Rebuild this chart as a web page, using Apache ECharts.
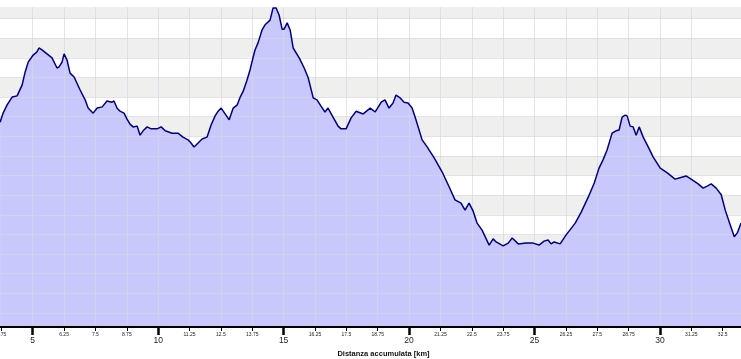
<!DOCTYPE html>
<html>
<head>
<meta charset="utf-8">
<script src="https://cdn.jsdelivr.net/npm/echarts@6/dist/echarts.min.js"></script>
<style>html,body{margin:0;padding:0;background:#fff;}#c{width:741px;height:359px;}</style>
</head>
<body>
<div id="c"></div>
<script>
const distanceKm = [3.70,3.82,3.98,4.18,4.38,4.58,4.70,4.82,5.02,5.17,5.25,5.37,5.57,5.77,5.97,6.05,6.17,6.25,6.37,6.49,
  6.65,6.89,7.09,7.21,7.41,7.57,7.77,7.96,8.16,8.24,8.36,8.48,8.64,8.76,8.88,9.00,9.16,9.28,9.40,9.56,
  9.72,9.96,10.12,10.28,10.56,10.79,10.99,11.19,11.31,11.43,11.59,11.75,11.95,12.11,12.27,12.39,12.51,12.67,12.83,12.99,
  13.15,13.27,13.39,13.54,13.66,13.78,13.86,13.98,14.14,14.26,14.46,14.58,14.70,14.82,14.94,15.02,15.14,15.26,15.38,15.62,
  15.82,15.98,16.18,16.33,16.49,16.65,16.77,16.97,17.17,17.29,17.49,17.69,17.89,18.17,18.45,18.65,18.89,19.04,19.20,19.36,
  19.48,19.64,19.80,19.96,20.12,20.24,20.52,20.72,21.00,21.32,21.60,21.83,22.07,22.23,22.39,22.55,22.71,22.91,23.19,23.35,
  23.47,23.75,23.95,24.11,24.35,24.66,24.94,25.18,25.38,25.54,25.66,25.78,26.02,26.26,26.62,26.86,27.14,27.38,27.57,27.73,
  27.89,28.01,28.09,28.25,28.37,28.49,28.61,28.69,28.81,28.93,29.05,29.17,29.33,29.53,29.73,30.01,30.29,30.60,30.76,31.04,
  31.24,31.52,31.72,31.88,32.04,32.24,32.44,32.60,32.80,32.96,33.08,33.23];
const elevationM = [586,609,630,650,653,681,714,739,757,765,775,770,760,750,724,727,739,760,744,711,
  701,668,643,622,609,622,625,640,637,640,622,614,609,594,581,574,576,553,564,574,
  569,569,574,564,558,558,548,541,533,523,533,543,548,579,602,614,622,607,592,622,
  630,650,665,693,719,750,770,788,821,834,846,877,877,859,823,823,839,821,775,750,
  724,699,648,643,627,612,622,599,576,569,569,597,614,607,622,612,637,643,622,635,
  655,648,637,635,622,599,541,523,495,459,421,388,380,362,380,360,329,311,273,289,
  281,271,278,291,276,278,278,273,283,286,276,281,276,299,329,357,395,431,469,490,
  515,541,558,564,566,599,604,602,576,574,553,574,548,523,497,469,457,441,444,449,
  441,429,418,423,429,418,401,362,324,294,304,329];

const minorTickLabels = [3.75,6.25,7.5,8.75,11.25,12.5,13.75,16.25,17.5,18.75,21.25,22.5,23.75,26.25,27.5,28.75,31.25,32.5];
const majorTickLabels = [5,10,15,20,25,30];
const allMinorTicks = [3.75,5,6.25,7.5,8.75,10,11.25,12.5,13.75,15,16.25,17.5,18.75,20,21.25,22.5,23.75,25,26.25,27.5,28.75,30,31.25,32.5];
const axisTitle = 'Distanza accumulata [km]';

const X_MIN = 3.697, X_MAX = 33.228;
const Y_MIN = 64.3, Y_MAX = 879.4;

const points = distanceKm.map((d, i) => [d, elevationM[i]]);

const chart = echarts.init(document.getElementById('c'), null, {renderer: 'canvas'});
const gridLineColor = 'rgba(215,215,222,0.7)';
chart.setOption({
  animation: false,
  backgroundColor: '#ffffff',
  grid: {left: 0, right: 0, top: 7, bottom: 32, containLabel: false, outerBoundsMode: 'none'},
  xAxis: [
    {
      type: 'value', min: X_MIN, max: X_MAX, position: 'bottom', z: 3,
      minInterval: 1.25, maxInterval: 1.25, splitNumber: 24,
      axisLine: {show: true, onZero: false, lineStyle: {color: '#000', width: 2}},
      axisTick: {show: true, customValues: allMinorTicks, length: 4, lineStyle: {color: '#000', width: 1}},
      axisLabel: {show: true, customValues: minorTickLabels, margin: 5, fontSize: 5,
        fontFamily: 'Liberation Sans', color: '#222', formatter: v => String(v)},
      splitLine: {show: true, showMinLine: false, showMaxLine: false, lineStyle: {color: gridLineColor, width: 1}},
      splitArea: {show: false},
      name: axisTitle, nameLocation: 'middle', nameGap: 23,
      nameTextStyle: {fontSize: 7.5, fontWeight: 'bold', fontFamily: 'Liberation Sans', color: '#111',
        padding: [0, 0, 0, 26]}
    },
    {
      type: 'value', min: X_MIN, max: X_MAX, position: 'bottom', z: 3,
      minInterval: 5, maxInterval: 5,
      axisLine: {show: false, onZero: false},
      axisTick: {show: true, customValues: majorTickLabels, length: 8, lineStyle: {color: '#000', width: 2.5}},
      axisLabel: {show: true, customValues: majorTickLabels, margin: 9, fontSize: 8.5,
        fontFamily: 'Liberation Sans', color: '#222'},
      splitLine: {show: false}
    }
  ],
  yAxis: [
    {
      type: 'value', min: Y_MIN, max: Y_MAX, minInterval: 50, maxInterval: 50, splitNumber: 16, z: 0,
      axisLine: {show: false}, axisTick: {show: false}, axisLabel: {show: false},
      splitLine: {show: false},
      splitArea: {show: true, areaStyle: {color: ['#efefee', '#ffffff']}}
    },
    {
      type: 'value', min: Y_MIN, max: Y_MAX, minInterval: 50, maxInterval: 50, splitNumber: 16, z: 3,
      position: 'left',
      axisLine: {show: false}, axisTick: {show: false}, axisLabel: {show: false},
      splitLine: {show: true, showMinLine: false, showMaxLine: false, lineStyle: {color: gridLineColor, width: 1}},
      splitArea: {show: false}
    }
  ],
  series: [
    {
      type: 'line', xAxisIndex: 0, yAxisIndex: 0, data: points, z: 2,
      symbol: 'none', smooth: false,
      lineStyle: {width: 0, opacity: 0},
      areaStyle: {color: '#c8c8fd', opacity: 1, origin: 'start'}
    },
    {
      type: 'line', xAxisIndex: 0, yAxisIndex: 0, data: points, z: 5,
      symbol: 'none', smooth: false, clip: false,
      lineStyle: {width: 1.5, color: '#000080'}
    }
  ]
});
</script>
</body>
</html>
